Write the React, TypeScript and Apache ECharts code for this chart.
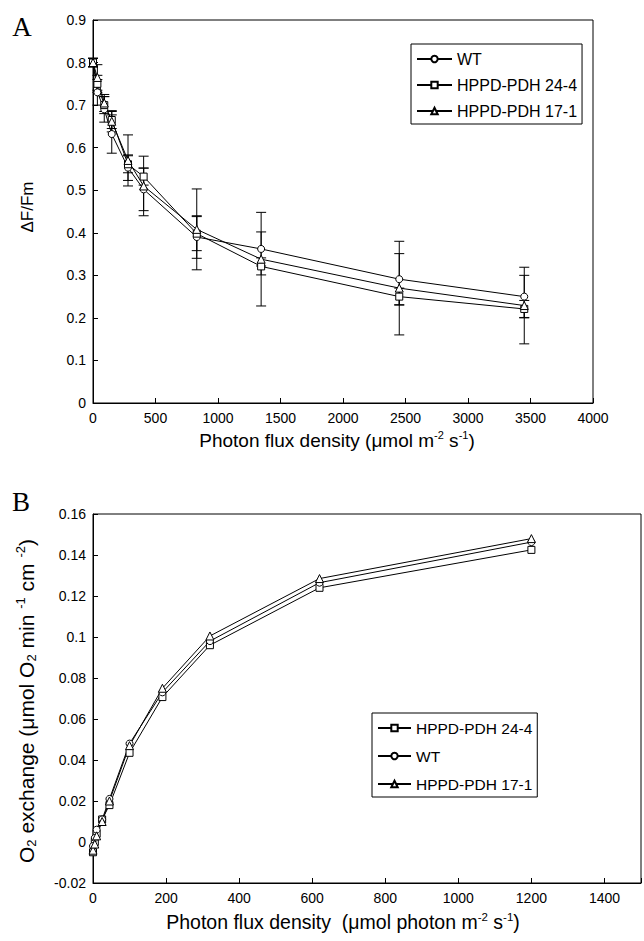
import React, { useEffect, useRef } from "react";
import * as echarts from "echarts";

// ---------- Panel A data ----------
const xA = [0, 35, 90, 150, 280, 405, 830, 1345, 2450, 3450];
const wtA = [0.8, 0.73, 0.69, 0.632, 0.553, 0.502, 0.39, 0.362, 0.291, 0.25];
const l244A = [0.8, 0.75, 0.7, 0.665, 0.561, 0.532, 0.398, 0.321, 0.25, 0.221];
const l171A = [0.8, 0.765, 0.705, 0.662, 0.57, 0.51, 0.408, 0.338, 0.27, 0.229];
const wtErrA = [0.01, 0.03, 0.03, 0.045, 0.03, 0.05, 0.05, 0.04, 0.06, 0.05];
const l244ErrA = [0.01, 0.02, 0.02, 0.02, 0.02, 0.02, 0.04, 0.02, 0.02, 0.02];
const l171ErrA = [0.01, 0.03, 0.02, 0.025, 0.06, 0.07, 0.095, 0.11, 0.11, 0.09];

// ---------- Panel B data ----------
const xB = [0, 5, 10, 25, 45, 100, 190, 320, 620, 1200];
const wtB = [-0.002, 0.002, 0.006, 0.011, 0.021, 0.048, 0.073, 0.098, 0.1265, 0.1463];
const l244B = [-0.005, 0.0, 0.004, 0.011, 0.018, 0.0435, 0.0707, 0.096, 0.124, 0.1425];
const l171B = [-0.004, -0.001, 0.003, 0.01, 0.02, 0.047, 0.075, 0.1005, 0.1285, 0.148];

const NAME_WT = "WT";
const NAME_244 = "HPPD-PDH 24-4";
const NAME_171 = "HPPD-PDH 17-1";
const legendOrderA = [NAME_WT, NAME_244, NAME_171];
const legendOrderB = [NAME_244, NAME_WT, NAME_171];

const SANS = "'Liberation Sans', Arial, sans-serif";
const SERIF = "'Liberation Serif', 'Times New Roman', serif";

const symbolFor: Record<string, string> = {
  [NAME_WT]: "circle",
  [NAME_244]: "rect",
  [NAME_171]: "triangle",
};
const sizeFor: Record<string, number> = {
  [NAME_WT]: 7,
  [NAME_244]: 7,
  [NAME_171]: 8,
};

function lineSeries(name: string, xs: number[], ys: number[], gi: number) {
  return {
    type: "line",
    name,
    xAxisIndex: gi,
    yAxisIndex: gi,
    data: xs.map((x, i) => [x, ys[i]]),
    symbol: symbolFor[name],
    symbolSize: sizeFor[name],
    showAllSymbol: true,
    itemStyle: { color: "#fff", borderColor: "#000", borderWidth: 1 },
    lineStyle: { color: "#000", width: 1 },
    z: 3,
  };
}

function errSeries(name: string, xs: number[], ys: number[], es: number[]) {
  return {
    type: "custom",
    name: name + " err",
    xAxisIndex: 0,
    yAxisIndex: 0,
    z: 2,
    data: xs.map((x, i) => [x, ys[i] - es[i], ys[i] + es[i]]),
    encode: { x: 0, y: [1, 2] },
    renderItem: (_params: any, api: any) => {
      const x = api.value(0);
      const hi = api.coord([x, api.value(2)]);
      const lo = api.coord([x, api.value(1)]);
      const w = 5;
      const st = { stroke: "#000", lineWidth: 1 };
      return {
        type: "group",
        children: [
          { type: "line", shape: { x1: hi[0], y1: hi[1], x2: lo[0], y2: lo[1] }, style: st },
          { type: "line", shape: { x1: hi[0] - w, y1: hi[1], x2: hi[0] + w, y2: hi[1] }, style: st },
          { type: "line", shape: { x1: lo[0] - w, y1: lo[1], x2: lo[0] + w, y2: lo[1] }, style: st },
        ],
      };
    },
  };
}

const axisCommon = {
  axisLine: { show: true, onZero: false, lineStyle: { color: "#000", width: 1 } },
  axisTick: { show: true, inside: true, length: 5, lineStyle: { color: "#000" } },
  splitLine: { show: false },
};
const labelStyle = { color: "#000", fontSize: 14, fontFamily: SANS };

function richFor(main: number, small: number) {
  const lh = Math.round(main * 1.15);
  return {
    n: { fontSize: main, fontFamily: SANS, color: "#000", lineHeight: lh },
    sup: { fontSize: small, fontFamily: SANS, color: "#000", verticalAlign: "top", lineHeight: lh },
    sub: { fontSize: small, fontFamily: SANS, color: "#000", verticalAlign: "bottom", lineHeight: lh },
  };
}

function legendCfg(left: number, top: number, data: string[], gap: number, fs: number, iw: number) {
  return {
    show: true,
    orient: "vertical",
    left,
    top,
    data,
    selectedMode: false,
    borderColor: "#000",
    borderWidth: 1,
    borderRadius: 0,
    padding: [7, 5, 5, 5],
    itemWidth: iw,
    itemHeight: 8,
    itemGap: gap,
    textStyle: { fontSize: fs, fontFamily: SANS, color: "#000" },
  };
}

export default function App() {
  const ref = useRef<HTMLDivElement>(null);
  useEffect(() => {
    document.body.style.margin = "0";
    const chart = echarts.init(ref.current!, null, { renderer: "svg" });
    const option: any = {
      animation: false,
      backgroundColor: "#fff",
      grid: [
        { left: 93, top: 20, width: 500, height: 383, show: true, borderColor: "#000", borderWidth: 1, backgroundColor: "transparent" },
        { left: 93, top: 514, width: 550, height: 369, show: true, borderColor: "#000", borderWidth: 1, backgroundColor: "transparent" },
      ],
      xAxis: [
        {
          type: "value", gridIndex: 0, min: 0, max: 4000, interval: 500, ...axisCommon,
          axisLabel: { ...labelStyle, margin: 8, formatter: (v: number) => String(v) },
        },
        {
          type: "value", gridIndex: 1, min: 0, max: 1500, interval: 200, ...axisCommon,
          axisLabel: { ...labelStyle, margin: 8, formatter: (v: number) => (v > 1400 ? "" : String(v)) },
        },
      ],
      yAxis: [
        { type: "value", gridIndex: 0, min: 0, max: 0.9, interval: 0.1, ...axisCommon, axisLabel: { ...labelStyle, margin: 7 } },
        { type: "value", gridIndex: 1, min: -0.02, max: 0.16, interval: 0.02, ...axisCommon, axisLabel: { ...labelStyle, margin: 7 } },
      ],
      legend: [
        legendCfg(411, 44, legendOrderA, 10, 16, 35),
        legendCfg(372, 713, legendOrderB, 12, 15.5, 33),
      ],
      series: [
        errSeries(NAME_WT, xA, wtA, wtErrA),
        errSeries(NAME_244, xA, l244A, l244ErrA),
        errSeries(NAME_171, xA, l171A, l171ErrA),
        lineSeries(NAME_WT, xA, wtA, 0),
        lineSeries(NAME_244, xA, l244A, 0),
        lineSeries(NAME_171, xA, l171A, 0),
        lineSeries(NAME_244, xB, l244B, 1),
        lineSeries(NAME_WT, xB, wtB, 1),
        lineSeries(NAME_171, xB, l171B, 1),
      ],
      graphic: [
        { type: "text", x: 22, y: 27, style: { text: "A", fontSize: 27, fontFamily: SERIF, fill: "#000", align: "center", verticalAlign: "middle" } },
        { type: "text", x: 21, y: 502, style: { text: "B", fontSize: 27, fontFamily: SERIF, fill: "#000", align: "center", verticalAlign: "middle" } },
        {
          type: "text", x: 337, y: 440,
          style: {
            text: "{n|Photon flux density (μmol m}{sup|-2}{n| s}{sup|-1}{n|)}",
            rich: richFor(19, 11), fontSize: 19, fontFamily: SANS, align: "center", verticalAlign: "middle", fill: "#000",
          },
        },
        {
          type: "text", x: 27, y: 207, rotation: Math.PI / 2,
          style: { text: "ΔF/Fm", fontSize: 17, fontFamily: SANS, fill: "#000", align: "center", verticalAlign: "middle" },
        },
        {
          type: "text", x: 343, y: 922,
          style: {
            text: "{n|Photon flux density  (μmol photon m}{sup|-2}{n| s}{sup|-1}{n|)}",
            rich: richFor(19.5, 11.5), fontSize: 19.5, fontFamily: SANS, align: "center", verticalAlign: "middle", fill: "#000",
          },
        },
        {
          type: "text", x: 26, y: 701, rotation: Math.PI / 2,
          style: {
            text: "{n|O}{sub|2}{n| exchange (μmol O}{sub|2}{n| min }{sup|-1}{n| cm }{sup|-2}{n|)}",
            rich: richFor(21, 13), fontSize: 21, fontFamily: SANS, align: "center", verticalAlign: "middle", fill: "#000",
          },
        },
      ],
    };
    chart.setOption(option);
    return () => chart.dispose();
  }, []);
  return <div ref={ref} style={{ width: 644, height: 941 }} />;
}
